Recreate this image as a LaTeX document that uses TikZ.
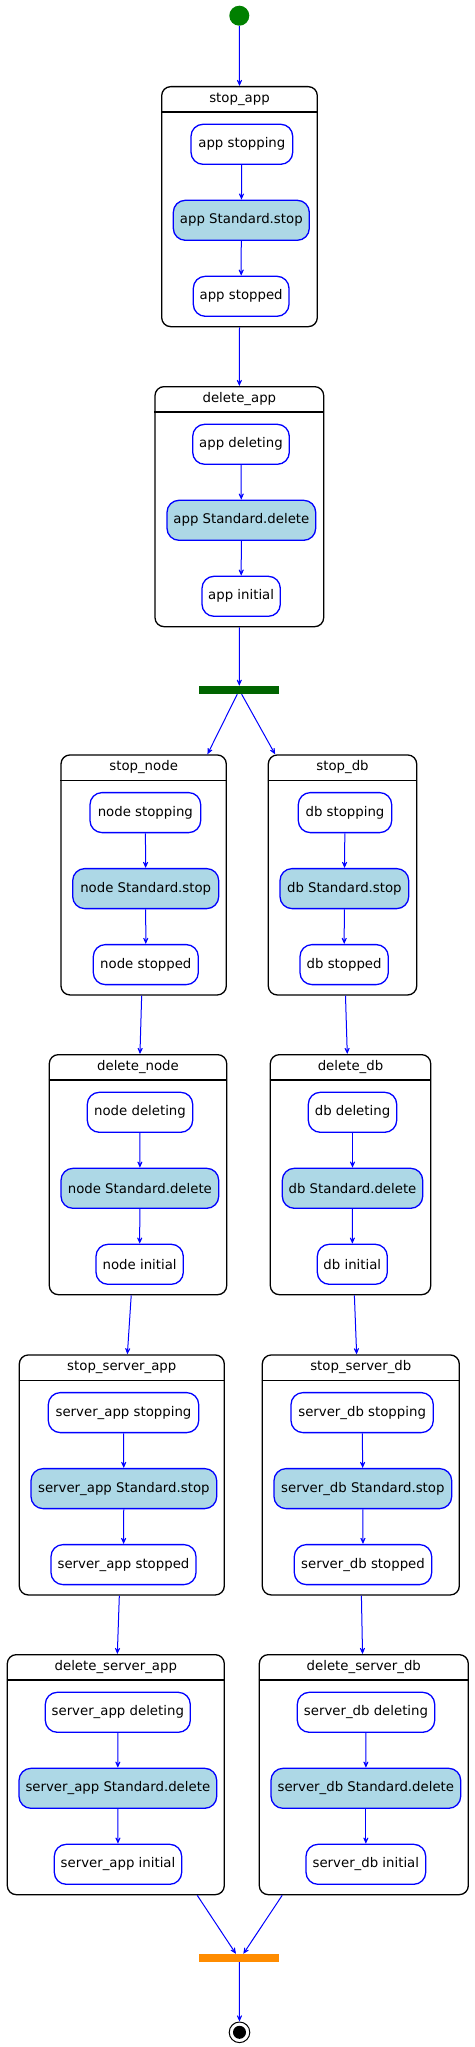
\documentclass[tikz,border=0pt]{standalone}
\usepackage{fontspec}
\setmainfont{DejaVu Sans}
\usetikzlibrary{arrows.meta,calc}
\definecolor{actblue}{RGB}{0,0,255}
\definecolor{actfill}{RGB}{173,216,230}
\definecolor{forkgreen}{RGB}{0,100,0}
\definecolor{joinorange}{RGB}{255,140,0}
\definecolor{startgreen}{RGB}{0,128,0}
\tikzset{
  cont/.style={draw=black, line width=1.3pt, rounded corners=9pt, minimum height=240pt, inner sep=0pt, anchor=north, fill=white},
  ttl/.style={font=\fontsize{13.3}{16}\selectfont, inner sep=0pt, text=black},
  act/.style={draw=actblue, line width=1.3pt, rounded corners=12pt, minimum height=40pt, inner sep=0pt, fill=white, text=black, font=\fontsize{13.3}{16}\selectfont},
  actstd/.style={act, fill=actfill},
  trans/.style={actblue, line width=1pt, -{Stealth[length=10pt,width=9pt,inset=6.5pt]}},
  bar/.style={minimum width=80pt, minimum height=8pt, inner sep=0pt},
}
\newcommand\mystatebox[5]{% name, cx, top, width, title
  \node[cont, minimum width=#4pt] (#1) at (#2,#3) {};
  \node[ttl] (#1T) at ([yshift=-13pt]#1.north) {#5};
  \draw[line width=1.3pt] ([yshift=-26pt]#1.north west) -- ([yshift=-26pt]#1.north east);
}
\begin{document}
\begin{tikzpicture}[x=1pt,y=-1pt]
\useasboundingbox (0,0) rectangle (474,2047);

% start
\node[circle, fill=startgreen, minimum size=20pt, inner sep=0pt] (start) at (239.3,15.7) {};

% containers
\mystatebox{stopapp}{239.5}{86}{155.6}{stop\_app}
\mystatebox{deleteapp}{239.35}{386}{168.7}{delete\_app}
\mystatebox{stopnode}{143.65}{754.3}{165.3}{stop\_node}
\mystatebox{stopdb}{342.5}{754.3}{148.4}{stop\_db}
\mystatebox{deletenode}{138}{1054}{177.4}{delete\_node}
\mystatebox{deletedb}{350.5}{1054}{160.4}{delete\_db}
\mystatebox{stopserverapp}{121.8}{1354.3}{205}{stop\_server\_app}
\mystatebox{stopserverdb}{360.8}{1354.3}{197}{stop\_server\_db}
\mystatebox{deleteserverapp}{115.8}{1654}{217}{delete\_server\_app}
\mystatebox{deleteserverdb}{363.8}{1654}{209}{delete\_server\_db}

% stop_app
\node[act, minimum width=101.7pt] (a1) at (241.85,144.3) {app stopping};
\node[actstd, minimum width=136pt] (a2) at (241.3,220.3) {app Standard.stop};
\node[act, minimum width=95.7pt] (a3) at (241.15,296.3) {app stopped};
% delete_app
\node[act, minimum width=96.6pt] (b1) at (241,444.3) {app deleting};
\node[actstd, minimum width=148.7pt] (b2) at (241.35,520.3) {app Standard.delete};
\node[act, minimum width=78.3pt] (b3) at (241.15,596.3) {app initial};
% stop_node
\node[act, minimum width=110.7pt] (c1) at (145.35,812.6) {node stopping};
\node[actstd, minimum width=146pt] (c2) at (145.7,888.6) {node Standard.stop};
\node[act, minimum width=105pt] (c3) at (145.8,964.6) {node stopped};
% stop_db
\node[act, minimum width=93.4pt] (d1) at (345,812.6) {db stopping};
\node[actstd, minimum width=128.7pt] (d2) at (344.35,888.6) {db Standard.stop};
\node[act, minimum width=88.3pt] (d3) at (344.15,964.6) {db stopped};
% delete_node
\node[act, minimum width=105.4pt] (e1) at (140,1112.3) {node deleting};
\node[actstd, minimum width=157.7pt] (e2) at (139.85,1188.3) {node Standard.delete};
\node[act, minimum width=87.3pt] (e3) at (139.65,1264.3) {node initial};
% delete_db
\node[act, minimum width=88.4pt] (f1) at (352.5,1112.3) {db deleting};
\node[actstd, minimum width=140.4pt] (f2) at (352.5,1188.3) {db Standard.delete};
\node[act, minimum width=70pt] (f3) at (352.3,1264.3) {db initial};
% stop_server_app
\node[act, minimum width=150.4pt] (g1) at (123.5,1412.6) {server\_app stopping};
\node[actstd, minimum width=185.7pt] (g2) at (123.85,1488.6) {server\_app Standard.stop};
\node[act, minimum width=145pt] (g3) at (123.5,1564.6) {server\_app stopped};
% stop_server_db
\node[act, minimum width=142.3pt] (h1) at (362.15,1412.6) {server\_db stopping};
\node[actstd, minimum width=177.7pt] (h2) at (362.85,1488.6) {server\_db Standard.stop};
\node[act, minimum width=137.4pt] (h3) at (363,1564.6) {server\_db stopped};
% delete_server_app
\node[act, minimum width=145pt] (i1) at (117.8,1712.3) {server\_app deleting};
\node[actstd, minimum width=197.7pt] (i2) at (117.85,1788.3) {server\_app Standard.delete};
\node[act, minimum width=127.4pt] (i3) at (118,1864.3) {server\_app initial};
% delete_server_db
\node[act, minimum width=137.4pt] (j1) at (366,1712.3) {server\_db deleting};
\node[actstd, minimum width=189.7pt] (j2) at (365.85,1788.3) {server\_db Standard.delete};
\node[act, minimum width=119.7pt] (j3) at (365.85,1864.3) {server\_db initial};

% bars and end
\node[bar, fill=forkgreen] (fork) at (239.3,690) {};
\node[bar, fill=joinorange] (join) at (239.3,1958) {};
\node[circle, draw=black, line width=1pt, fill=white, minimum size=20.6pt, inner sep=0pt] (endc) at (239.5,2032.3) {};
\node[circle, fill=black, minimum size=13pt, inner sep=0pt] (endin) at (endc) {};

% inner transitions
\foreach \p in {a,b,c,d,e,f,g,h,i,j}{
  \draw[trans] (\p1) -- (\p2);
  \draw[trans] (\p2) -- (\p3);
}

% outer transitions
\draw[trans] (start) -- (stopapp.north);
\draw[trans] (stopapp.south) -- (deleteapp.north);
\draw[trans] (deleteapp.south) -- (fork.north);
\draw[trans] (fork) -- ($(stopnode.north west)!0.883!(stopnode.north east)$);
\draw[trans] (fork) -- ($(stopdb.north west)!0.05!(stopdb.north east)$);
\draw[trans] ($(stopnode.south west)!0.488!(stopnode.south east)$) -- ($(deletenode.north west)!0.511!(deletenode.north east)$);
\draw[trans] ($(stopdb.south west)!0.52!(stopdb.south east)$) -- ($(deletedb.north west)!0.48!(deletedb.north east)$);
\draw[trans] ($(deletenode.south west)!0.462!(deletenode.south east)$) -- ($(stopserverapp.north west)!0.527!(stopserverapp.north east)$);
\draw[trans] ($(deletedb.south west)!0.524!(deletedb.south east)$) -- ($(stopserverdb.north west)!0.479!(stopserverdb.north east)$);
\draw[trans] ($(stopserverapp.south west)!0.488!(stopserverapp.south east)$) -- ($(deleteserverapp.north west)!0.507!(deleteserverapp.north east)$);
\draw[trans] ($(stopserverdb.south west)!0.503!(stopserverdb.south east)$) -- ($(deleteserverdb.north west)!0.494!(deleteserverdb.north east)$);
\draw[trans] ($(deleteserverapp.south west)!0.873!(deleteserverapp.south east)$) -- ($(join.north west)!0.458!(join.north east)$);
\draw[trans] ($(deleteserverdb.south west)!0.112!(deleteserverdb.south east)$) -- ($(join.north west)!0.55!(join.north east)$);
\draw[trans] (join.south) -- (endc);
\end{tikzpicture}
\end{document}
